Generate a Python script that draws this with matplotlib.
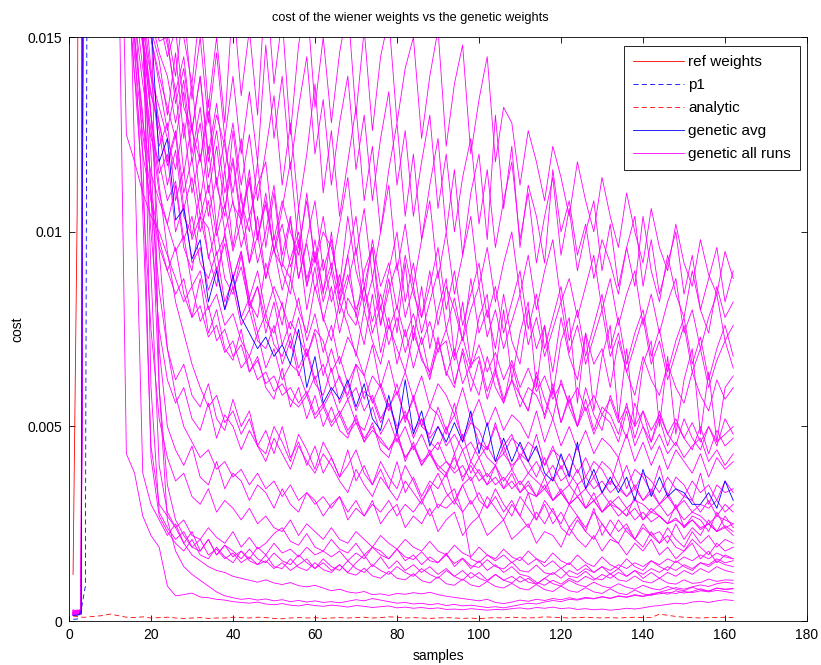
import numpy as np
import matplotlib
matplotlib.use("Agg")
import matplotlib.pyplot as plt

plt.rcParams['font.family'] = ['Liberation Sans', 'DejaVu Sans']

# sample index of every run (dense start, then every second sample)
run_x = [1, 2, 3] + list(range(4, 163, 2))

# all costs are in units of 1e-4
ref_x = [1, 2, 3]
ref_cost = [12, 105, 400]

p1_x = [1, 2, 3, 4, 5]
p1_cost = [0.5, 0.5, 3, 9, 400]

analytic_cost = [1.3, 1.2, 1.0,
                 1.0, 1.2, 1.4, 1.8, 1.4, 1.0, 0.9, 1.1, 0.8, 0.9,
                 1.0, 0.8, 0.7, 0.8, 0.9, 0.7, 0.8, 0.8, 1.0, 0.9,
                 0.8, 1.0, 0.9, 0.7, 0.6, 0.8, 0.9, 0.8, 0.9, 0.7,
                 0.8, 0.9, 0.8, 0.9, 1.0, 0.8, 0.9, 1.1, 1.0, 0.8,
                 0.9, 0.8, 0.7, 0.8, 0.9, 0.8, 0.7, 0.8, 0.6, 0.8,
                 0.9, 0.8, 1.0, 0.9, 0.8, 0.9, 1.1, 1.0, 0.9, 0.8,
                 0.9, 1.0, 0.9, 0.8, 0.9, 0.8, 0.9, 1.0, 0.9, 0.9,
                 1.8, 1.5, 1.2, 1.0, 0.9, 0.8, 0.9, 0.9, 1.0, 0.9]

genetic_avg = [1.5, 1.5, 2,
               400, 330, 280, 240, 210, 190, 175, 165, 155, 118,
               124, 103, 106, 93, 98, 82, 90, 80, 89, 78,
               74, 70, 73, 68, 71, 66, 75, 60, 68, 56,
               60, 57, 62, 55, 61, 52, 49, 58, 48, 62,
               48, 54, 45, 50, 46, 51, 46, 54, 43, 51,
               41, 47, 41, 46, 41, 45, 38, 36, 43, 37,
               46, 34, 39, 33, 37, 33, 37, 31, 39, 32,
               37, 32, 34, 33, 30, 30, 33, 29, 36, 31]

low_runs = [
    [2.0, 1.8, 2.2,
     500, 400, 320, 250, 180, 43, 38, 27, 22, 19,
     9, 6.5, 6.8, 7.2, 6.2, 6.0, 5.6, 5.4, 5.0, 4.8,
     4.6, 4.9, 4.4, 4.2, 4.5, 4.1, 3.9, 4.3, 4.0, 3.8,
     4.1, 3.9, 3.6, 4.0, 3.8, 3.5, 3.7, 3.9, 3.4, 3.6,
     3.3, 3.5, 3.2, 3.4, 3.0, 3.1, 2.9, 3.2, 3.0, 2.8,
     3.0, 2.9, 3.2, 3.4, 3.1, 3.5, 3.3, 3.6, 3.2, 3.4,
     3.0, 3.2, 2.9, 3.1, 2.8, 3.0, 3.3, 3.1, 3.4, 3.8,
     4.0, 4.3, 4.6, 4.4, 4.9, 5.1, 4.8, 5.2, 5.5, 5.3],
    [1.6, 1.9, 2.4,
     350, 300, 280, 260, 240, 220, 200, 180, 160, 60,
     26, 18, 14, 12, 10.5, 9, 7.5, 6.5, 6.0, 5.6,
     5.8, 5.4, 5.7, 5.2, 5.5, 5.0, 5.3, 4.9, 5.2, 4.8,
     5.0, 4.7, 5.1, 5.5, 5.2, 5.8, 5.4, 5.0, 4.6, 4.8,
     4.4, 4.6, 4.2, 4.5, 4.0, 4.3, 3.9, 4.1, 3.8, 3.5,
     3.7, 3.4, 3.8, 4.2, 4.6, 4.4, 4.9, 5.3, 5.0, 5.6,
     5.4, 5.9, 5.7, 6.2, 5.8, 6.4, 6.1, 6.6, 6.3, 6.8,
     7.0, 7.4, 7.1, 7.6, 7.3, 7.8, 7.5, 7.9, 7.6, 7.2],
    [2.2, 2.0, 2.6,
     420, 380, 320, 280, 240, 200, 170, 150, 90, 40,
     28, 24, 20, 17, 15.5, 14, 13, 12.5, 11.5, 11,
     10.5, 10, 10.6, 9.8, 9.4, 9.9, 9.1, 8.8, 9.2, 8.5,
     7.8, 8.2, 7.5, 7.2, 7.6, 6.8, 7.0, 6.6, 7.1, 6.9,
     7.3, 7.0, 7.4, 6.8, 6.4, 6.1, 5.8, 5.5, 5.2, 5.6,
     4.8, 4.5, 4.9, 5.4, 5.1, 5.6, 5.3, 5.8, 5.5, 6.0,
     5.6, 6.1, 5.8, 6.3, 5.9, 6.5, 6.2, 6.8, 6.4, 7.0,
     7.4, 8.0, 8.6, 8.2, 8.8, 9.3, 8.9, 9.6, 10.0, 9.7],
]

lowmid_runs = [
    [1.4, 1.7, 2.1,
     600, 450, 380, 320, 270, 230, 190, 160, 60, 28,
     24, 21, 23, 19, 18, 21, 17, 19.5, 18, 16,
     18.5, 16, 15, 17.5, 15.5, 14.5, 17, 15, 13.5, 16,
     14, 13, 15.5, 13.5, 12.5, 14.5, 13, 12, 14, 12.5,
     11.5, 13.5, 12, 11, 13, 11.5, 10.5, 12.5, 11, 10.2,
     12, 10.5, 9.8, 11.5, 10, 9.5, 11, 9.6, 9, 10.5,
     9.4, 8.8, 10, 9, 8.5, 9.6, 8.7, 8.2, 9.2, 8.4,
     8, 8.9, 8.2, 7.8, 8.7, 8, 7.7, 8.5, 8.1, 8.3],
    [1.9, 2.3, 2.8,
     450, 400, 350, 300, 260, 200, 120, 38, 30, 26,
     22, 25, 20, 23, 18, 21, 17, 19.5, 16.5, 18,
     16, 19, 17, 20, 17.5, 18.5, 16.5, 19, 17, 18,
     16.5, 18, 15.5, 17.5, 16, 19, 17, 16, 18.5, 15.5,
     17, 14.5, 16.5, 15, 17.5, 14, 16, 13.5, 15.5, 13,
     14.5, 12.5, 14, 12, 11.5, 10, 9.2, 10.5, 9.5, 11,
     10, 11.5, 10.5, 12, 11, 12.5, 11.5, 13, 12, 13.5,
     12.5, 14, 13, 14.5, 13.5, 15, 14, 15.5, 14.5, 14],
    [2.5, 2.2, 1.9,
     380, 330, 290, 250, 220, 190, 165, 150, 110, 60,
     35, 26, 22, 19, 21, 17, 18.5, 16, 17.5, 15,
     16.5, 14.5, 15.5, 13.5, 15, 13, 14.5, 16, 13.5, 15,
     13, 14.5, 12.5, 15, 17, 14, 16.5, 13.5, 15.5, 13,
     14.5, 12.5, 14, 12, 13.5, 11.5, 13, 11, 12.5, 10.5,
     12, 10.5, 11.5, 10, 11, 9.5, 11, 12.5, 11, 13,
     12, 13.5, 12.5, 14, 13, 14.5, 13.5, 15, 14, 15.5,
     14.5, 16, 15, 16.5, 15.5, 17, 16, 17.5, 16.5, 16],
    [1.7, 2.0, 2.5,
     550, 480, 400, 330, 280, 230, 190, 160, 130, 95,
     70, 58, 50, 46, 42, 44, 39, 41, 37, 39,
     35, 38, 34, 36, 32, 35, 31, 33, 30, 32,
     29, 32, 28, 31, 27, 30, 28, 31, 27, 30,
     28, 31, 27, 30, 29, 31, 28, 16, 15, 17,
     15.5, 17, 15, 16.5, 14.5, 16, 14, 15.5, 13.5, 15,
     13, 14.5, 12.5, 14, 12, 13.5, 11.5, 13, 11, 12.5,
     11, 12.5, 11.5, 13, 12, 13.5, 12.5, 14, 13, 12.5],
    [2.1, 2.6, 3.0,
     480, 420, 360, 300, 250, 200, 160, 120, 42, 27,
     23, 20, 18, 21, 17, 16, 19, 16.5, 15, 18,
     15.5, 14.5, 17, 14, 13.5, 16, 13.8, 13, 15, 13.2,
     12.5, 14.5, 12.4, 11.8, 13.6, 11.6, 11, 12.8, 11, 10.6,
     12.2, 10.4, 9.8, 11.4, 9.6, 9.2, 10.8, 9.3, 8.8, 10.2,
     8.9, 8.5, 9.7, 8.4, 8, 9.4, 8.1, 7.6, 9, 7.8,
     7.4, 8.6, 7.5, 7.1, 8.3, 7.2, 6.8, 8, 7, 6.6,
     7.4, 6.9, 7.8, 7.2, 7.6, 8.3, 7.7, 8.5, 8.2, 8.4],
    [1.5, 1.8, 2.3,
     360, 320, 280, 240, 200, 170, 150, 105, 45, 30,
     27, 24, 26, 22, 21, 24, 21.5, 20, 23, 19,
     21.5, 18.5, 20, 22.5, 24, 20.5, 19.5, 22.5, 19, 18,
     21, 18.5, 17.5, 20, 17, 19, 18, 16, 18.5, 16.5,
     15.8, 17.8, 15.5, 15, 17, 14.8, 16.2, 14.2, 13.8, 15.8,
     14, 13.4, 15.2, 13, 12.6, 14.4, 12.4, 12, 13.6, 11.5,
     11.2, 12.8, 11, 10.6, 12.2, 10.6, 10.2, 11.6, 10.2, 9.8,
     11, 9.8, 9.5, 10.6, 9.7, 9.9, 10.8, 10.2, 10.6, 10.5],
    [2.0, 1.6, 2.2,
     470, 390, 320, 260, 210, 170, 140, 110, 75, 52,
     42, 36, 38, 32, 30, 34, 28, 31, 29, 26,
     29, 25, 27, 24, 23, 26, 22, 25, 23, 21,
     24, 21, 20, 23, 21, 19, 22, 20, 18.5, 21,
     19, 18, 20.5, 18, 17, 19.5, 17.5, 16.5, 19, 17,
     16, 18.5, 16.5, 15.5, 18, 16, 15, 17.5, 15.5, 14.5,
     17, 15, 14, 16.5, 14.5, 13.5, 16, 14, 13, 15.5,
     14, 13, 15.5, 14, 13, 15, 14.5, 16, 15, 15.5],
]

mid_runs = [
    [2.3, 2.0, 2.7,
     700, 550, 450, 370, 300, 240, 190, 150, 110, 85,
     70, 62, 66, 58, 55, 61, 52, 49, 57, 50,
     54, 45, 43, 50, 46, 41, 48, 44, 39, 46,
     42, 37, 40, 44, 38, 35, 41, 37, 34, 40,
     36, 31, 34, 38, 33, 30, 35, 37, 31, 29,
     34, 30, 27, 32, 29, 26, 31, 28, 25, 30,
     27, 24, 28, 25, 22, 26, 23, 21, 25, 22,
     20, 24, 21, 19, 23, 20, 22, 19, 21, 20],
    [1.8, 2.4, 2.9,
     400, 360, 320, 280, 240, 200, 170, 150, 120, 70,
     50, 44, 40, 45, 37, 35, 41, 34, 38, 36,
     31, 35, 33, 29, 34, 30, 28, 33, 31, 27,
     30, 32, 26, 29, 27, 31, 25, 28, 30, 24,
     27, 25, 29, 23, 26, 28, 22, 25, 27, 22,
     24, 26, 21, 23, 25, 20, 23, 22, 19, 24,
     21, 19, 22, 18, 21, 20, 17, 20, 18, 21,
     17, 19, 16, 18, 20, 16, 18, 15, 17, 16],
    [2.6, 2.1, 2.4,
     800, 600, 480, 380, 300, 230, 180, 150, 130, 112,
     95, 82, 74, 66, 60, 55, 58, 51, 54, 48,
     52, 45, 49, 43, 50, 42, 46, 40, 45, 38,
     42, 37, 44, 36, 40, 35, 39, 34, 41, 33,
     37, 32, 36, 34, 38, 31, 35, 30, 33, 29,
     32, 28, 31, 27, 33, 26, 30, 25, 28, 24,
     27, 23, 29, 22, 26, 23, 25, 21, 24, 22,
     23, 20, 25, 21, 24, 22, 26, 23, 27, 24],
    [1.6, 2.2, 2.0,
     350, 310, 270, 230, 190, 160, 150, 130, 100, 75,
     62, 56, 60, 52, 49, 56, 47, 53, 50, 44,
     49, 45, 41, 47, 43, 39, 45, 41, 38, 43,
     40, 36, 33, 39, 35, 32, 37, 34, 31, 36,
     33, 30, 35, 29, 32, 34, 28, 31, 27, 32,
     29, 26, 30, 27, 24, 28, 25, 29, 24, 22,
     26, 23, 21, 25, 22, 20, 24, 21, 19, 23,
     20, 22, 19, 18, 21, 19, 17, 20, 18, 19],
]

main_runs = [
    [2.0, 2.5, 2.2,
     900, 700, 520, 400, 310, 240, 190, 165, 150, 138,
     126, 137, 115, 128, 108, 122, 101, 116, 96, 110,
     92, 104, 88, 99, 90, 84, 97, 80, 91, 77,
     86, 74, 83, 79, 71, 84, 69, 78, 66, 75,
     65, 73, 63, 70, 72, 61, 69, 59, 67, 57,
     64, 56, 62, 58, 54, 63, 52, 60, 51, 58,
     50, 57, 49, 55, 53, 48, 56, 47, 54, 46,
     52, 45, 51, 47, 44, 50, 43, 49, 45, 47],
    [1.7, 2.1, 2.6,
     600, 480, 380, 300, 240, 190, 160, 148, 135, 128,
     117, 125, 106, 114, 100, 108, 94, 99, 88, 95,
     83, 90, 79, 86, 81, 75, 83, 72, 79, 69,
     76, 66, 73, 69, 63, 71, 60, 67, 58, 64,
     57, 63, 55, 61, 58, 53, 60, 52, 57, 50,
     55, 49, 53, 51, 47, 54, 46, 52, 45, 50,
     44, 49, 43, 47, 45, 42, 48, 41, 46, 40,
     45, 39, 44, 41, 38, 43, 37, 42, 39, 41],
    [2.4, 1.9, 2.3,
     750, 560, 420, 320, 250, 200, 170, 152, 140, 122,
     128, 108, 116, 98, 104, 101, 90, 97, 85, 91,
     81, 86, 77, 74, 82, 70, 78, 68, 75, 72,
     64, 68, 61, 66, 63, 56, 61, 55, 59, 52,
     57, 50, 48, 55, 49, 53, 47, 52, 46, 44,
     50, 45, 48, 42, 46, 44, 40, 45, 39, 43,
     38, 42, 37, 41, 39, 35, 40, 34, 38, 36,
     33, 37, 34, 32, 36, 33, 35, 31, 36, 33],
    [1.5, 1.6, 2.0,
     500, 420, 350, 290, 240, 200, 170, 150, 130, 115,
     120, 100, 107, 92, 96, 85, 91, 80, 86, 76,
     80, 72, 70, 76, 66, 72, 63, 69, 61, 58,
     65, 56, 61, 54, 59, 57, 51, 56, 49, 54,
     47, 52, 46, 44, 50, 43, 48, 41, 46, 42,
     40, 45, 39, 43, 41, 37, 42, 36, 40, 35,
     39, 34, 37, 33, 36, 34, 32, 35, 31, 34,
     30, 33, 29, 32, 31, 28, 31, 27, 30, 28],
    [2.8, 2.3, 2.0,
     650, 520, 400, 310, 240, 190, 160, 142, 126, 110,
     102, 95, 99, 86, 90, 80, 84, 76, 79, 72,
     68, 74, 65, 70, 62, 66, 64, 58, 63, 55,
     59, 53, 57, 51, 49, 55, 48, 52, 46, 50,
     44, 48, 43, 46, 41, 39, 44, 38, 42, 37,
     40, 36, 39, 35, 38, 36, 34, 37, 33, 35,
     32, 34, 31, 33, 30, 32, 29, 31, 30, 28,
     30, 27, 29, 26, 28, 27, 25, 27, 26, 25],
    [2.0, 2.7, 2.4,
     480, 400, 330, 270, 220, 125, 118, 110, 104, 100,
     94, 88, 82, 86, 77, 81, 72, 75, 68, 71,
     64, 67, 61, 63, 58, 60, 56, 59, 53, 56,
     51, 54, 49, 52, 47, 50, 46, 44, 48, 42,
     45, 40, 43, 39, 41, 38, 40, 36, 39, 35,
     37, 34, 36, 33, 35, 32, 34, 31, 33, 30,
     32, 29, 31, 28, 30, 27, 29, 26, 28, 25.5,
     27, 25, 26.5, 24, 26, 23.5, 25, 23, 24.5, 23],
    [1.9, 2.2, 2.9,
     1000, 800, 600, 450, 340, 260, 200, 170, 155, 146,
     140, 128, 139, 120, 132, 114, 126, 110, 119, 104,
     113, 99, 107, 95, 102, 91, 98, 88, 95, 85,
     92, 82, 89, 80, 86, 77, 84, 75, 81, 73,
     79, 71, 77, 69, 75, 67, 73, 65, 71, 64,
     69, 62, 67, 60, 65, 59, 63, 57, 61, 56,
     60, 54, 58, 53, 57, 51, 55, 50, 54, 49,
     53, 48, 52, 47, 51, 46, 50, 45, 52, 48],
    [2.1, 1.8, 2.5,
     550, 440, 360, 290, 230, 185, 155, 138, 124, 118,
     108, 113, 98, 104, 92, 88, 95, 82, 88, 78,
     83, 74, 79, 71, 68, 74, 65, 70, 62, 66,
     59, 63, 57, 60, 54, 58, 52, 56, 50, 53,
     49, 52, 47, 50, 45, 48, 44, 46, 42, 45,
     41, 43, 40, 42, 38, 41, 37, 40, 36, 38,
     35, 37, 34, 36, 33, 35, 32, 34, 31, 33,
     30, 32, 29, 31, 28, 30, 29, 31, 28, 30],
    [2.3, 2.0, 1.7,
     700, 540, 410, 320, 250, 200, 168, 150, 136, 126,
     112, 121, 104, 99, 110, 93, 101, 88, 84, 94,
     80, 86, 74, 82, 71, 77, 73, 68, 74, 63,
     70, 62, 58, 66, 57, 63, 60, 54, 61, 51,
     58, 50, 55, 53, 48, 56, 46, 51, 49, 44,
     51, 43, 47, 45, 41, 48, 40, 44, 42, 38,
     45, 37, 41, 39, 35, 42, 34, 39, 37, 33,
     40, 32, 37, 35, 31, 38, 30, 35, 33, 34],
    [1.8, 2.5, 2.1,
     950, 720, 540, 410, 320, 250, 200, 172, 158, 149,
     150, 133, 142, 126, 118, 131, 112, 124, 107, 103,
     116, 98, 108, 95, 91, 103, 88, 97, 85, 93,
     82, 89, 79, 76, 86, 74, 81, 71, 78, 69,
     76, 67, 64, 73, 63, 70, 61, 66, 68, 59,
     65, 57, 62, 55, 60, 58, 53, 61, 51, 57,
     50, 55, 48, 53, 51, 46, 54, 45, 50, 44,
     48, 43, 46, 42, 45, 47, 41, 44, 40, 43],
    [2.6, 2.2, 2.8,
     420, 360, 300, 250, 200, 165, 140, 120, 108, 96,
     90, 84, 88, 78, 81, 73, 76, 69, 72, 65,
     68, 62, 64, 59, 61, 57, 55, 58, 52, 55,
     50, 53, 48, 51, 46, 49, 47, 44, 47, 42,
     45, 41, 43, 40, 38, 42, 37, 40, 36, 38,
     35, 37, 34, 36, 33, 32, 35, 31, 33, 30,
     32, 29, 31, 28, 30, 29, 27, 29, 26, 28,
     27, 25, 26, 24.5, 26, 24, 25, 23, 24, 22],
    [2.2, 2.4, 1.9,
     520, 430, 350, 280, 220, 175, 145, 125, 110, 98,
     90, 96, 84, 78, 88, 74, 80, 70, 67, 75,
     64, 68, 60, 57, 65, 55, 60, 52, 58, 50,
     55, 49, 47, 53, 46, 51, 44, 42, 49, 41,
     46, 40, 44, 39, 37, 43, 36, 41, 38, 35,
     40, 34, 38, 33, 36, 32, 37, 31, 34, 30,
     35, 29, 33, 28, 31, 29, 27, 32, 26, 29,
     27, 25, 30, 24, 27, 26, 23, 28, 24, 25],
]

high_runs = [
    [2.2, 2.6, 3.1,
     1200, 900, 700, 550, 420, 330, 270, 230, 200, 180,
     170, 160, 150, 138, 158, 132, 150, 128, 160, 135,
     152, 130, 165, 138, 155, 125, 148, 160, 132, 150,
     128, 146, 158, 130, 152, 126, 145, 155, 128, 142,
     150, 124, 140, 152, 122, 138, 148, 120, 134, 145,
     118, 132, 128, 112, 126, 118, 108, 122, 114, 104,
     118, 108, 100, 114, 104, 96, 110, 100, 92, 106,
     96, 90, 102, 92, 86, 98, 89, 84, 95, 88],
    [1.8, 2.0, 2.6,
     850, 650, 500, 400, 320, 260, 220, 190, 170, 158,
     148, 136, 145, 126, 140, 120, 133, 116, 128, 112,
     125, 108, 121, 135, 112, 128, 106, 120, 138, 110,
     126, 104, 118, 132, 108, 122, 100, 116, 128, 104,
     120, 98, 112, 124, 100, 116, 94, 110, 120, 98,
     130, 106, 122, 96, 112, 104, 92, 116, 100, 108,
     94, 102, 88, 98, 92, 84, 96, 86, 104, 90,
     82, 94, 84, 78, 90, 80, 74, 86, 78, 82],
    [2.4, 2.9, 2.2,
     700, 560, 450, 360, 290, 240, 200, 172, 150, 140,
     132, 124, 136, 118, 128, 110, 122, 106, 118, 102,
     114, 98, 110, 95, 106, 118, 96, 108, 92, 104,
     90, 102, 114, 94, 106, 88, 100, 112, 90, 102,
     86, 98, 108, 88, 100, 84, 94, 104, 86, 96,
     82, 92, 100, 84, 94, 80, 90, 98, 82, 88,
     78, 86, 94, 80, 88, 76, 84, 90, 76, 84,
     74, 82, 88, 74, 80, 70, 78, 84, 72, 76],
    [1.6, 2.3, 2.7,
     650, 520, 420, 340, 280, 230, 190, 165, 142, 128,
     118, 126, 110, 119, 104, 112, 99, 107, 95, 103,
     92, 99, 88, 96, 85, 93, 100, 86, 94, 82,
     90, 79, 87, 96, 80, 88, 76, 85, 92, 78,
     86, 74, 82, 90, 75, 83, 72, 80, 86, 73,
     80, 70, 77, 84, 71, 78, 68, 75, 82, 69,
     76, 66, 73, 80, 68, 74, 64, 71, 78, 66,
     72, 62, 69, 76, 64, 70, 60, 67, 72, 65],
    [2.0, 1.7, 2.3,
     800, 620, 480, 380, 300, 240, 195, 165, 150, 155,
     145, 152, 132, 126, 140, 118, 130, 122, 110, 124,
     104, 112, 118, 98, 108, 100, 94, 110, 92, 100,
     96, 86, 104, 90, 82, 98, 86, 92, 80, 94,
     84, 78, 90, 76, 86, 80, 72, 88, 74, 80,
     70, 84, 72, 66, 80, 70, 76, 64, 78, 68,
     62, 74, 66, 70, 60, 72, 64, 58, 68, 62,
     58, 66, 60, 56, 64, 58, 54, 62, 57, 60],
    [2.7, 2.4, 1.8,
     550, 450, 370, 300, 240, 190, 150, 128, 115, 108,
     102, 112, 96, 90, 104, 94, 86, 100, 88, 95,
     82, 78, 92, 84, 76, 88, 80, 74, 86, 78,
     72, 82, 76, 68, 80, 72, 66, 76, 70, 64,
     74, 68, 62, 72, 64, 60, 70, 63, 58, 68,
     60, 56, 66, 58, 54, 64, 57, 52, 62, 55,
     50, 60, 53, 49, 58, 52, 47, 56, 50, 46,
     54, 48, 45, 52, 47, 44, 50, 46, 48, 50],
    [2.1, 1.9, 2.4,
     1100, 850, 650, 500, 390, 300, 240, 200, 175, 160,
     152, 140, 158, 134, 150, 128, 146, 124, 140, 120,
     136, 118, 148, 124, 140, 116, 132, 145, 120, 134,
     112, 128, 140, 116, 130, 108, 124, 136, 112, 126,
     104, 118, 130, 106, 120, 100, 114, 124, 102, 116,
     96, 108, 118, 98, 110, 92, 104, 114, 94, 106,
     90, 100, 108, 90, 102, 86, 96, 104, 86, 98,
     84, 92, 100, 84, 94, 80, 88, 96, 82, 90],
    [2.9, 2.5, 2.0,
     620, 500, 400, 330, 270, 220, 185, 158, 140, 132,
     124, 116, 128, 110, 120, 104, 114, 100, 108, 96,
     104, 92, 100, 112, 94, 104, 88, 98, 108, 90,
     98, 84, 94, 104, 86, 96, 80, 90, 100, 82,
     92, 78, 86, 96, 80, 90, 76, 84, 92, 78,
     86, 74, 82, 90, 75, 84, 70, 78, 86, 72,
     80, 68, 76, 84, 70, 78, 66, 74, 80, 68,
     75, 64, 72, 78, 66, 73, 62, 70, 76, 68],
    [1.7, 2.6, 2.3,
     880, 680, 520, 400, 310, 245, 200, 170, 152, 144,
     130, 146, 124, 138, 118, 134, 112, 104, 126, 108,
     100, 118, 96, 110, 92, 88, 106, 86, 98, 84,
     100, 82, 94, 78, 90, 96, 76, 88, 74, 92,
     72, 86, 70, 80, 88, 68, 82, 66, 78, 84,
     64, 80, 62, 74, 82, 60, 76, 58, 72, 78,
     56, 74, 54, 68, 76, 52, 70, 50, 66, 72,
     50, 68, 48, 62, 70, 48, 64, 46, 60, 63],
]

scale = 1e-4

fig = plt.figure(figsize=(8.21, 6.65), dpi=100)
ax = fig.add_axes([0.084, 0.066, 0.899, 0.878])

lw = 0.6
h_ref, = ax.plot(ref_x, np.array(ref_cost) * scale, color='red', lw=lw, label='ref weights')
h_p1, = ax.plot(p1_x, np.array(p1_cost) * scale, color='blue', lw=lw, ls='--',
                dashes=(6, 4), label='p1', zorder=3)
h_an, = ax.plot(run_x, np.array(analytic_cost) * scale, color='red', lw=lw, ls='--',
                dashes=(6, 4), label='analytic')
h_avg, = ax.plot(run_x, np.array(genetic_avg) * scale, color='blue', lw=lw,
                 label='genetic avg', zorder=4)

h_runs = None
for group in (low_runs, lowmid_runs, mid_runs, main_runs, high_runs):
    for run in group:
        h, = ax.plot(run_x, np.array(run) * scale, color='magenta', lw=lw)
        if h_runs is None:
            h_runs = h
h_runs.set_label('genetic all runs')

ax.set_xlim(0, 180)
ax.set_ylim(0, 0.015)
ax.set_xticks(range(0, 181, 20))
ax.set_yticks([0, 0.005, 0.01, 0.015])
ax.set_yticklabels(['0', '0.005', '0.01', '0.015'])
ax.tick_params(direction='in', top=True, right=True, length=4, width=0.6,
               labelsize=10, pad=5)
for sp in ax.spines.values():
    sp.set_linewidth(0.6)

ax.set_title('cost of the wiener weights vs the genetic weights', fontsize=9.2,
             pad=12, x=0.462)
ax.set_xlabel('samples', fontsize=10, labelpad=5)
ax.set_ylabel('cost', fontsize=10, labelpad=2)

leg = ax.legend(handles=[h_ref, h_p1, h_an, h_avg, h_runs], loc='upper right',
                bbox_to_anchor=(0.991, 0.985), borderaxespad=0, fontsize=11,
                fancybox=False, framealpha=1, edgecolor='black',
                handlelength=3.3, handletextpad=0.3, labelspacing=0.59,
                borderpad=0.6)
leg.get_frame().set_linewidth(0.6)

fig.savefig('out.png', dpi=100)
